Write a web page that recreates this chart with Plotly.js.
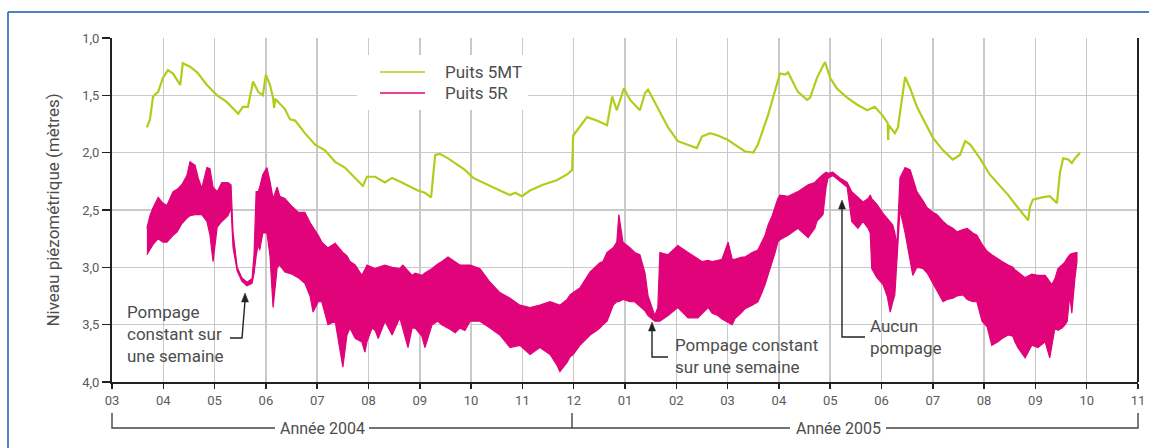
<!DOCTYPE html>
<html><head><meta charset="utf-8">
<script src="https://cdn.plot.ly/plotly-3.0.1.min.js"></script>
<style>html,body{margin:0;padding:0;background:#fff;overflow:hidden}#chart{width:1149px;height:448px}</style>
</head><body><div id="chart"></div>
<script>
// Tick labels (month of year), positions are month indices from March 2004
const monthLabels = ['03','04','05','06','07','08','09','10','11','12','01','02','03','04','05','06','07','08','09','10','11'];
const yTicks = [1.0, 1.5, 2.0, 2.5, 3.0, 3.5, 4.0];

// Puits 5MT (month index, level in m)
const mtX = [0.68,0.74,0.80,0.90,0.99,1.09,1.19,1.33,1.38,1.52,1.66,1.85,2.05,2.24,2.46,2.55,2.65,2.75,2.85,2.94,3.00,3.08,3.14,3.16,3.18,3.27,3.37,3.47,3.57,3.76,3.96,4.15,4.35,4.54,4.74,4.89,4.97,5.13,5.32,5.46,5.65,5.85,5.96,6.10,6.22,6.30,6.39,6.55,6.74,6.88,7.04,7.31,7.56,7.76,7.86,7.99,8.15,8.40,8.67,8.87,8.97,8.99,9.08,9.26,9.45,9.65,9.75,9.84,9.98,10.10,10.29,10.39,10.45,10.58,10.72,10.84,11.03,11.23,11.40,11.50,11.66,11.81,12.01,12.14,12.34,12.50,12.59,12.79,12.92,13.02,13.12,13.18,13.37,13.55,13.61,13.74,13.84,13.90,14.00,14.13,14.33,14.52,14.72,14.87,15.01,15.12,15.13,15.14,15.26,15.32,15.46,15.56,15.69,15.85,16.00,16.20,16.39,16.53,16.63,16.73,16.92,17.11,17.21,17.47,17.66,17.86,17.89,17.95,18.13,18.28,18.42,18.48,18.54,18.64,18.71,18.77,18.87];
const mtY = [1.78,1.71,1.51,1.47,1.35,1.28,1.31,1.41,1.22,1.25,1.30,1.41,1.50,1.56,1.66,1.60,1.60,1.38,1.47,1.50,1.32,1.41,1.52,1.61,1.53,1.57,1.62,1.71,1.72,1.83,1.93,1.98,2.08,2.13,2.22,2.29,2.21,2.21,2.26,2.22,2.26,2.31,2.33,2.35,2.39,2.02,2.01,2.05,2.11,2.15,2.22,2.28,2.33,2.37,2.35,2.38,2.33,2.28,2.24,2.19,2.15,1.85,1.80,1.69,1.72,1.76,1.51,1.63,1.44,1.54,1.63,1.48,1.45,1.56,1.67,1.78,1.90,1.93,1.96,1.86,1.83,1.85,1.89,1.93,1.99,2.00,1.93,1.67,1.47,1.31,1.32,1.30,1.47,1.54,1.52,1.35,1.26,1.21,1.35,1.44,1.52,1.58,1.63,1.60,1.67,1.74,1.89,1.76,1.83,1.78,1.34,1.44,1.60,1.74,1.87,1.98,2.06,2.02,1.90,1.93,2.05,2.19,2.24,2.37,2.48,2.59,2.48,2.41,2.39,2.38,2.44,2.17,2.05,2.06,2.09,2.05,2.00];

// Puits 5R: daily oscillation band, read as upper (shallowest) and lower (deepest) envelope
const rX = [0.68,0.74,0.80,0.90,0.99,1.07,1.19,1.27,1.36,1.46,1.52,1.62,1.68,1.75,1.85,1.91,1.97,2.05,2.14,2.26,2.32,2.36,2.44,2.53,2.63,2.73,2.77,2.81,2.85,2.88,2.94,3.02,3.08,3.14,3.22,3.27,3.37,3.51,3.63,3.76,3.86,3.92,4.02,4.09,4.21,4.35,4.50,4.58,4.64,4.74,4.87,4.93,4.97,5.07,5.13,5.19,5.32,5.46,5.61,5.67,5.77,5.85,5.91,6.04,6.10,6.24,6.35,6.43,6.55,6.69,6.78,6.88,6.98,7.17,7.37,7.56,7.76,7.95,8.15,8.34,8.54,8.67,8.73,8.87,8.93,8.99,9.12,9.32,9.45,9.51,9.57,9.65,9.77,9.84,9.88,9.96,10.10,10.19,10.29,10.39,10.45,10.53,10.58,10.64,10.68,10.84,11.03,11.23,11.42,11.50,11.62,11.70,11.81,11.89,12.01,12.09,12.14,12.28,12.34,12.48,12.59,12.67,12.73,12.79,12.87,12.92,12.98,13.02,13.18,13.37,13.57,13.70,13.74,13.86,13.92,13.96,14.05,14.19,14.33,14.42,14.54,14.64,14.74,14.78,14.81,14.91,15.03,15.11,15.17,15.22,15.26,15.30,15.36,15.46,15.56,15.61,15.69,15.81,15.89,16.00,16.08,16.20,16.28,16.39,16.47,16.59,16.67,16.78,16.86,16.96,17.06,17.15,17.27,17.35,17.47,17.56,17.60,17.66,17.80,17.93,18.05,18.19,18.28,18.32,18.38,18.44,18.52,18.58,18.62,18.67,18.71,18.77,18.81];
const rTop = [2.66,2.55,2.48,2.39,2.44,2.46,2.34,2.32,2.28,2.20,2.08,2.11,2.22,2.31,2.13,2.14,2.30,2.34,2.26,2.26,2.28,2.70,3.00,3.09,3.13,3.10,2.88,2.34,2.34,2.30,2.19,2.13,2.25,2.40,2.30,2.38,2.40,2.47,2.52,2.52,2.61,2.65,2.72,2.78,2.83,2.79,2.87,2.90,2.95,2.98,3.07,3.02,2.98,3.00,3.01,3.00,2.98,3.00,3.01,2.98,3.03,3.07,3.05,3.07,3.05,3.01,2.97,2.95,2.91,2.95,2.98,2.98,2.98,3.01,3.13,3.22,3.27,3.33,3.35,3.33,3.30,3.32,3.33,3.28,3.24,3.22,3.18,3.04,2.98,2.96,2.95,2.87,2.83,2.78,2.54,2.78,2.83,2.87,2.89,3.05,3.25,3.35,3.42,3.35,2.87,2.89,2.81,2.87,2.93,2.95,2.94,2.95,2.94,2.93,2.78,2.93,2.93,2.91,2.91,2.87,2.85,2.78,2.72,2.63,2.55,2.48,2.40,2.37,2.38,2.34,2.28,2.26,2.24,2.19,2.17,2.18,2.17,2.22,2.26,2.34,2.39,2.43,2.40,2.37,2.40,2.45,2.53,2.57,2.60,2.63,2.70,2.81,2.22,2.13,2.15,2.22,2.34,2.42,2.48,2.52,2.54,2.60,2.63,2.66,2.69,2.67,2.66,2.70,2.72,2.80,2.86,2.89,2.93,2.95,2.98,3.00,3.02,3.04,3.09,3.06,3.07,3.07,3.12,3.15,3.10,3.01,2.98,2.95,2.92,2.89,2.88,2.87,2.87];
const rBottom = [2.89,2.85,2.80,2.75,2.78,2.78,2.72,2.69,2.62,2.57,2.55,2.54,2.54,2.54,2.60,2.72,2.95,2.65,2.60,2.55,2.48,2.83,3.03,3.12,3.16,3.14,3.05,2.90,2.80,2.85,2.70,2.70,2.90,3.35,3.00,2.98,3.04,3.06,3.09,3.14,3.25,3.39,3.30,3.30,3.50,3.47,3.87,3.59,3.53,3.62,3.65,3.74,3.65,3.53,3.55,3.62,3.47,3.59,3.44,3.55,3.70,3.53,3.53,3.60,3.70,3.50,3.47,3.50,3.53,3.57,3.53,3.55,3.47,3.47,3.53,3.59,3.70,3.68,3.76,3.70,3.76,3.85,3.91,3.83,3.78,3.76,3.68,3.59,3.55,3.53,3.50,3.47,3.33,3.30,3.30,3.28,3.30,3.30,3.34,3.38,3.42,3.45,3.47,3.47,3.47,3.42,3.35,3.44,3.44,3.40,3.35,3.40,3.42,3.45,3.48,3.50,3.45,3.39,3.36,3.33,3.30,3.22,3.15,3.08,2.95,2.88,2.78,2.76,2.72,2.66,2.74,2.66,2.60,2.54,2.30,2.22,2.20,2.25,2.30,2.60,2.66,2.60,2.66,2.70,3.01,3.09,3.15,3.25,3.39,3.30,3.24,3.00,2.50,2.70,2.95,3.07,3.00,3.01,3.05,3.13,3.20,3.30,3.28,3.27,3.25,3.24,3.28,3.30,3.30,3.47,3.52,3.68,3.65,3.62,3.59,3.60,3.65,3.70,3.79,3.68,3.70,3.65,3.79,3.70,3.53,3.55,3.53,3.50,3.47,3.24,3.40,3.10,2.95];

const GREEN = '#b3cc1c', PINK = '#e0037a', TXT = '#4d4d4d';
const FONT = 'Roboto, "Liberation Sans", sans-serif';

// pixel -> paper helpers for decorations (plot area 112..1138 x 38..382)
const L = 112, R = 1138, T = 38, B = 382;
const px = x => (x - L) / (R - L);
const py = y => (B - y) / (B - T);
const P = (x, y) => px(x).toFixed(5) + ',' + py(y).toFixed(5);

const bandX = rX.concat(rX.slice().reverse());
const bandY = rTop.concat(rBottom.slice().reverse());

const traces = [
  {x: bandX, y: bandY, type: 'scatter', mode: 'lines', fill: 'toself', fillcolor: PINK,
   line: {color: PINK, width: 1.2}, name: 'Puits 5R', showlegend: false, hoverinfo: 'skip'},
  {x: mtX, y: mtY, type: 'scatter', mode: 'lines', line: {color: GREEN, width: 2.2},
   name: 'Puits 5MT', showlegend: false}
];

const line = (x0, y0, x1, y1, color, w) => ({type: 'line', xref: 'paper', yref: 'paper',
  x0: px(x0), y0: py(y0), x1: px(x1), y1: py(y1), line: {color: color, width: w}, layer: 'above'});
const path = (d, color, w, fill) => ({type: 'path', xref: 'paper', yref: 'paper', path: d,
  line: {color: color, width: w}, fillcolor: fill || 'rgba(0,0,0,0)', layer: 'above'});

const shapes = [
  // outer blue frame (top and left edges visible)
  line(8, 12, 1300, 12, '#4f81c4', 2),
  line(8, 12, 8, 600, '#4f81c4', 2),
  // right frame line
  line(R, T, R, B, '#222', 2),
  // legend box + samples
  {type: 'rect', xref: 'paper', yref: 'paper', x0: px(357), y0: py(110), x1: px(528), y1: py(55),
   fillcolor: '#ffffff', line: {width: 0}, layer: 'above'},
  line(380, 72, 425, 72, GREEN, 1.6),
  line(380, 93, 425, 93, PINK, 1.6),
  // arrows
  path('M' + P(230, 338) + 'L' + P(242, 338) + 'L' + P(245, 301), '#222', 1.4),
  path('M' + P(245, 293) + 'L' + P(241.5, 302) + 'L' + P(248.5, 302) + 'Z', '#222', 0.5, '#222'),
  path('M' + P(668, 357) + 'L' + P(652, 357) + 'L' + P(652, 330), '#222', 1.4),
  path('M' + P(652, 322) + 'L' + P(648.5, 331) + 'L' + P(655.5, 331) + 'Z', '#222', 0.5, '#222'),
  path('M' + P(865, 337) + 'L' + P(842, 337) + 'L' + P(842, 208), '#222', 1.4),
  path('M' + P(842, 200) + 'L' + P(838.5, 209) + 'L' + P(845.5, 209) + 'Z', '#222', 0.5, '#222'),
  // year brackets
  path('M' + P(112, 413) + 'L' + P(112, 428) + 'L' + P(275, 428), '#444', 1.4),
  line(369, 428, 790, 428, '#444', 1.4),
  line(572, 413, 572, 428, '#444', 1.4),
  path('M' + P(886, 428) + 'L' + P(1138, 428) + 'L' + P(1138, 413), '#444', 1.4)
];

const ann = (x, y, text, size, xanchor) => ({xref: 'paper', yref: 'paper', x: px(x), y: py(y), text: text,
  showarrow: false, xanchor: xanchor || 'left', yanchor: 'middle', align: 'left',
  font: {family: FONT, size: size, color: TXT}});

const annotations = [
  ann(443, 72, 'Puits 5MT', 17),
  ann(443, 93, 'Puits 5R', 17),
  ann(125, 334, 'Pompage<br>constant sur<br>une semaine', 17),
  ann(673, 356, 'Pompage constant<br>sur une semaine', 17),
  ann(868, 337, 'Aucun<br>pompage', 17),
  ann(322, 428, 'Année 2004', 16, 'center'),
  ann(838, 428, 'Année 2005', 16, 'center')
];

const layout = {
  width: 1149, height: 448,
  margin: {l: L, r: 1149 - R, t: T, b: 448 - B},
  paper_bgcolor: '#ffffff', plot_bgcolor: '#ffffff',
  separators: ',.',
  showlegend: false,
  font: {family: FONT, color: TXT},
  xaxis: {range: [0, 20], tickmode: 'array', tickvals: monthLabels.map((_, i) => i), ticktext: monthLabels,
    showgrid: true, gridcolor: '#c9c9c9', gridwidth: 1.5, zeroline: false,
    showline: true, linecolor: '#222', linewidth: 2, ticks: 'outside', ticklen: 5, tickcolor: '#222', tickwidth: 1.5,
    tickfont: {family: FONT, size: 13, color: '#5a5a5a'}, fixedrange: true},
  yaxis: {range: [4.0, 1.0], tickmode: 'array', tickvals: yTicks, tickformat: '.1f',
    showgrid: true, gridcolor: '#c9c9c9', gridwidth: 1.5, zeroline: false,
    showline: true, linecolor: '#222', linewidth: 2, ticks: 'outside', ticklen: 8, tickcolor: '#222', tickwidth: 1.5,
    tickfont: {family: FONT, size: 13, color: '#5a5a5a'},
    title: {text: 'Niveau piézométrique (mètres)', font: {family: FONT, size: 17, color: TXT}, standoff: 18},
    fixedrange: true},
  shapes: shapes,
  annotations: annotations
};

Plotly.newPlot('chart', traces, layout, {displayModeBar: false, staticPlot: true});
</script></body></html>
